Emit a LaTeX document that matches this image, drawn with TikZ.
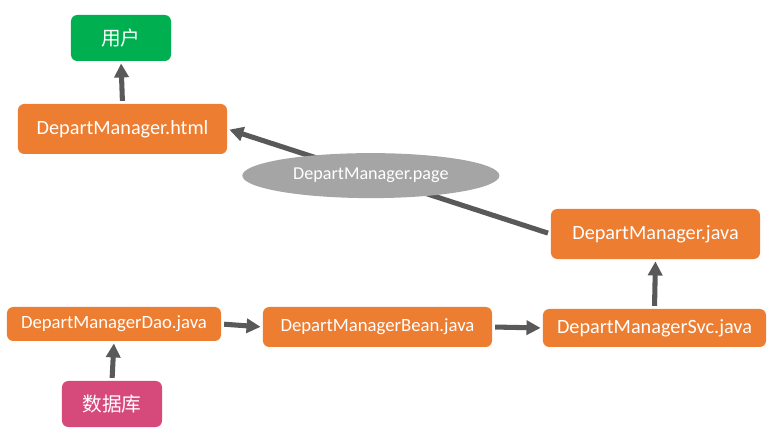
\documentclass[tikz,border=0pt]{standalone}
\usepackage{fontspec}
\setmainfont{Carlito}
\newfontfamily\cjk{Noto Sans CJK SC}
\usepackage{tikz}
\usetikzlibrary{arrows.meta, shapes.geometric}
\definecolor{naranjo}{RGB}{237, 125, 49}
\definecolor{verde}{RGB}{0, 176, 80}
\definecolor{rosa}{RGB}{214, 74, 123}
\definecolor{gris}{RGB}{165, 165, 165}
\definecolor{grafito}{RGB}{89, 89, 89}
\tikzset{
    caja/.style={rectangle, rounded corners=4.5pt, fill=naranjo, text=white, inner sep=0pt, font=\fontsize{14.4}{16}\selectfont},
    cajaLow/.style={caja, font=\fontsize{13.3}{15}\selectfont},
    hoja/.style={caja, fill=verde, minimum width=2.5cm, minimum height=1.15cm, font=\cjk\fontsize{14}{16}\selectfont},
    pag/.style={ellipse, fill=gris, text=white, inner sep=0pt, minimum width=6.425cm, minimum height=1.125cm, font=\fontsize{12.9}{14}\selectfont},
    flecha/.style={-{Triangle[length=10pt, width=10pt]}, grafito, line width=3.6pt, shorten >=1.5pt, shorten <=2pt},
}
\begin{document}
\begin{tikzpicture}[x=0.025cm, y=-0.025cm]
        \useasboundingbox (0, 0) rectangle (779, 444);

        \node [hoja] (user) at (121, 38) {用户};
        \node [caja, minimum width=5.225cm, minimum height=1.25cm] (html) at (122.5, 129) {DepartManager.html};
        \node [caja, minimum width=5.225cm, minimum height=1.25cm] (java) at (655.5, 234) {DepartManager.java};
        \node [cajaLow, minimum width=5.35cm, minimum height=0.85cm] (dao) at (114, 324) {DepartManagerDao.java};
        \node [cajaLow, minimum width=5.725cm, minimum height=1cm] (bean) at (377.5, 327) {DepartManagerBean.java};
        \node [caja, minimum width=5.575cm, minimum height=0.95cm] (svc) at (654.5, 328) {DepartManagerSvc.java};
        \node [hoja, fill=rosa] (db) at (112, 404) {数据库};

        \draw[flecha] (html.north) -- (user.south);
        \draw[flecha] (java.west) -- (html.east)
            node[pag, pos=0.556] (page) {DepartManager.page};
        \draw[flecha] (dao.east) -- (bean.west);
        \draw[flecha] (bean.east) -- (svc.west);
        \draw[flecha] (svc.north) -- (java.south);
        \draw[flecha] (db.north) -- (dao.south);
\end{tikzpicture}
\end{document}
